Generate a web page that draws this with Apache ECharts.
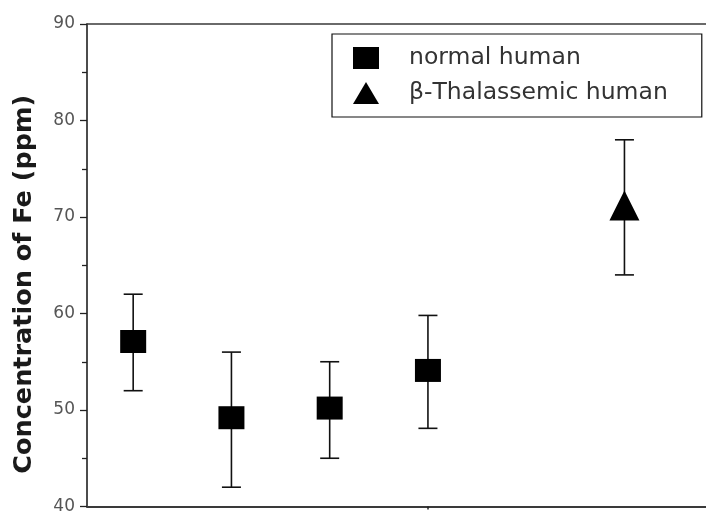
<!DOCTYPE html>
<html>
<head>
<meta charset="utf-8">
<script src="https://cdn.jsdelivr.net/npm/echarts@6/dist/echarts.min.js"></script>
<style>
  html, body { margin: 0; padding: 0; background: #fff; }
  #chart { width: 706px; height: 515px; }
</style>
</head>
<body>
<div id="chart"></div>
<script>
// Fe concentration per sample group (ppm), mean with lower / upper error limits
const normalX    = [1, 2, 3, 4];
const normalMean = [57.1, 49.2, 50.2, 54.1];
const normalLow  = [52, 42, 45, 48.1];
const normalHigh = [62, 56, 55, 59.8];

const thalX    = [6];
const thalMean = [71.2];
const thalLow  = [64];
const thalHigh = [78];

const yTicks = [40, 50, 60, 70, 80, 90];
const seriesNames = ['normal human', 'β-Thalassemic human'];

const X_MIN = 0.53, X_MAX = 6.83;

function points(xs, ys) { return xs.map((x, i) => [x, ys[i]]); }
function bars(xs, lo, hi) { return xs.map((x, i) => [x, lo[i], hi[i]]); }

function renderErrorBar(params, api) {
  const x = api.value(0);
  const pLo = api.coord([x, api.value(1)]);
  const pHi = api.coord([x, api.value(2)]);
  const hw = 9.5;
  const st = { stroke: '#111', lineWidth: 1.6 };
  return {
    type: 'group',
    children: [
      { type: 'line', shape: { x1: pHi[0], y1: pHi[1], x2: pLo[0], y2: pLo[1] }, style: st },
      { type: 'line', shape: { x1: pHi[0] - hw, y1: pHi[1], x2: pHi[0] + hw, y2: pHi[1] }, style: st },
      { type: 'line', shape: { x1: pLo[0] - hw, y1: pLo[1], x2: pLo[0] + hw, y2: pLo[1] }, style: st }
    ]
  };
}

const chart = echarts.init(document.getElementById('chart'), null, { renderer: 'canvas' });

chart.setOption({
  animation: false,
  backgroundColor: '#fff',
  grid: { left: 87, top: 24, right: 0, bottom: 5, containLabel: false },
  legend: {
    orient: 'vertical',
    left: 332,
    top: 34,
    padding: [12, 34, 12, 21],
    itemGap: 11,
    itemWidth: 26,
    itemHeight: 22,
    borderColor: '#111',
    borderWidth: 1.2,
    data: [
      { name: seriesNames[0], icon: 'rect', itemStyle: { color: '#000', opacity: 1 } },
      { name: seriesNames[1], icon: 'triangle', itemStyle: { color: '#000', opacity: 1 } }
    ],
    textStyle: {
      fontFamily: 'DejaVu Sans',
      fontSize: 23.5,
      color: '#333',
      padding: [0, 0, 0, 25]
    }
  },
  xAxis: [
    {
      type: 'value',
      min: X_MIN,
      max: X_MAX,
      position: 'bottom',
      axisLine: { show: true, lineStyle: { color: '#3a3a3a', width: 2 } },
      axisTick: { show: true, customValues: [4], length: 3, lineStyle: { color: '#222', width: 1.5 } },
      axisLabel: { show: false },
      splitLine: { show: false }
    },
    {
      type: 'value',
      min: X_MIN,
      max: X_MAX,
      position: 'top',
      axisLine: { show: true, lineStyle: { color: '#3a3a3a', width: 1.5 } },
      axisTick: { show: false },
      axisLabel: { show: false },
      splitLine: { show: false }
    }
  ],
  yAxis: {
    type: 'value',
    min: yTicks[0],
    max: yTicks[yTicks.length - 1],
    interval: 10,
    name: 'Concentration of Fe (ppm)',
    nameLocation: 'middle',
    nameGap: 50,
    nameTextStyle: {
      fontFamily: 'DejaVu Sans',
      fontWeight: 'bold',
      fontSize: 25.5,
      color: '#1a1a1a',
      padding: [0, 38, 0, 0]
    },
    axisLine: { show: true, lineStyle: { color: '#111', width: 1.5 } },
    axisTick: { show: true, length: 7, lineStyle: { color: '#222', width: 1.3 } },
    minorTick: { show: true, splitNumber: 2, length: 5, lineStyle: { color: '#222', width: 1.3 } },
    axisLabel: {
      margin: 12,
      fontFamily: 'DejaVu Sans',
      fontSize: 17,
      color: '#555'
    },
    splitLine: { show: false }
  },
  series: [
    {
      type: 'custom',
      name: 'normal-err',
      renderItem: renderErrorBar,
      encode: { x: 0, y: [1, 2] },
      data: bars(normalX, normalLow, normalHigh),
      z: 1,
      silent: true
    },
    {
      type: 'custom',
      name: 'thal-err',
      renderItem: renderErrorBar,
      encode: { x: 0, y: [1, 2] },
      data: bars(thalX, thalLow, thalHigh),
      z: 1,
      silent: true
    },
    {
      type: 'scatter',
      name: seriesNames[0],
      symbol: 'rect',
      symbolSize: [26, 23],
      itemStyle: { color: '#000', opacity: 1 },
      data: points(normalX, normalMean),
      z: 3
    },
    {
      type: 'scatter',
      name: seriesNames[1],
      symbol: 'triangle',
      symbolSize: [30, 30],
      itemStyle: { color: '#000', opacity: 1 },
      data: points(thalX, thalMean),
      z: 3
    }
  ]
});
</script>
</body>
</html>
